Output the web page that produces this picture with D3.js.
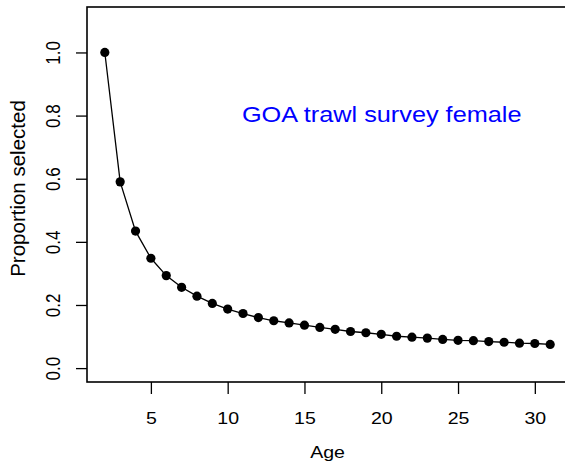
<!DOCTYPE html>
<html><head><meta charset="utf-8">
<script src="https://cdn.jsdelivr.net/npm/d3@7"></script>
<style>body{margin:0;background:#fff}svg{display:block}text{font-family:"Liberation Sans",Arial,sans-serif}</style>
</head><body>
<svg id="c" width="565" height="467"></svg>
<script>
const ages = [2,3,4,5,6,7,8,9,10,11,12,13,14,15,16,17,18,19,20,21,22,23,24,25,26,27,28,29,30,31];
const selected = [1.0,0.590,0.434,0.348,0.293,0.256,0.228,0.205,0.187,0.173,0.160,0.150,0.143,0.136,0.129,0.123,0.116,0.112,0.107,0.101,0.098,0.095,0.091,0.088,0.087,0.084,0.082,0.079,0.078,0.075];
const xTicks = [5,10,15,20,25,30];
const yTicks = [0.0,0.2,0.4,0.6,0.8,1.0];
const titleText = "GOA trawl survey female";
const xLabel = "Age";
const yLabel = "Proportion selected";

const svg = d3.select("#c");
const L = 87, R = 568, T = 7, B = 382;
const SX = 1.15;
const x = d3.scaleLinear().domain([0.84, 32.16]).range([L, R]);
const y = d3.scaleLinear().domain([-0.044, 1.144]).range([B, T]);

// box
svg.append("rect").attr("x", L).attr("y", T).attr("width", R - L).attr("height", B - T)
  .attr("fill", "none").attr("stroke", "#000").attr("stroke-width", 1.6);

// x axis
const xa = svg.append("g").attr("transform", `translate(0,${B})`)
  .call(d3.axisBottom(x).tickValues(xTicks).tickSize(12).tickFormat(d3.format("d")));
xa.select(".domain").remove();
xa.selectAll("line").attr("stroke", "#000").attr("stroke-width", 1.3);
xa.selectAll("text").attr("font-size", 17).attr("fill", "#000")
  .attr("y", 0).attr("dy", "0.71em").attr("transform", `translate(0,30) scale(${SX},1)`);

// y axis
const ya = svg.append("g").attr("transform", `translate(${L},0)`)
  .call(d3.axisLeft(y).tickValues(yTicks).tickSize(11).tickFormat(d3.format(".1f")));
ya.select(".domain").remove();
ya.selectAll("line").attr("stroke", "#000").attr("stroke-width", 1.3);
ya.selectAll("text").attr("font-size", 17).attr("fill", "#000")
  .attr("x", 0).attr("dy", "0.36em").attr("text-anchor", "middle")
  .attr("transform", `translate(${53 - L},0) scale(${SX},1) rotate(-90)`);

// line
const pts = ages.map((a, i) => [a, selected[i]]);
svg.append("path").datum(pts)
  .attr("fill", "none").attr("stroke", "#000").attr("stroke-width", 1.3)
  .attr("d", d3.line().x(d => x(d[0])).y(d => y(d[1])));

svg.selectAll("circle.pt").data(pts).join("circle")
  .attr("class", "pt").attr("cx", d => x(d[0])).attr("cy", d => y(d[1])).attr("r", 4.6).attr("fill", "#000");

// labels
svg.append("text").attr("transform", `translate(327.5,458) scale(${SX},1)`).attr("text-anchor", "middle")
  .attr("font-size", 17).text(xLabel);
svg.append("text").attr("transform", `translate(19,188.5) rotate(-90)`).attr("text-anchor", "middle")
  .attr("dy", "0.3em").attr("font-size", 20.5).text(yLabel);
svg.append("text").attr("transform", `translate(381.7,122) scale(${SX},1)`).attr("text-anchor", "middle")
  .attr("font-size", 22).attr("fill", "#0000ff").text(titleText);
</script>
</body></html>
